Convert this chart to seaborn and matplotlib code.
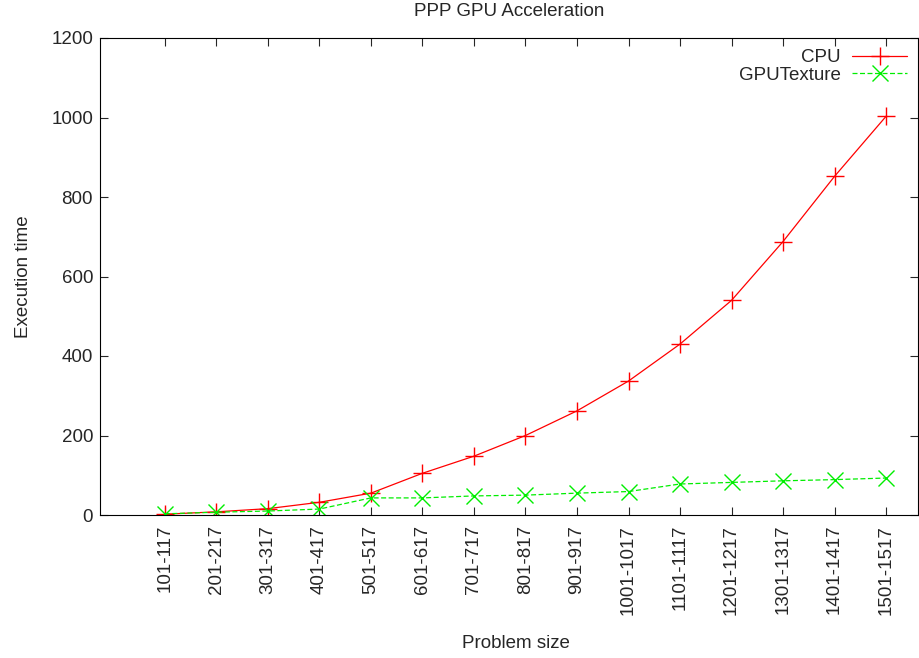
import pandas as pd
import matplotlib
matplotlib.use("Agg")
import matplotlib.pyplot as plt
import seaborn as sns

# Data
sizes = ["101-117", "201-217", "301-317", "401-417", "501-517", "601-617",
         "701-717", "801-817", "901-917", "1001-1017", "1101-1117",
         "1201-1217", "1301-1317", "1401-1417", "1501-1517"]
cpu = [2, 8, 16, 32, 55, 105, 148, 200, 262, 337, 430, 540, 688, 852, 1003]
gpu_texture = [3, 7, 10, 15, 43, 43, 48, 50, 55, 59, 78, 82, 86, 89, 93]

df = pd.DataFrame({"pos": range(len(sizes)), "size": sizes,
                   "CPU": cpu, "GPUTexture": gpu_texture})

sns.set_style("ticks")
plt.rcParams['font.family'] = ['Liberation Sans', 'DejaVu Sans']
fs = 13.5

fig = plt.figure(figsize=(9.2, 6.58), dpi=100)
ax = fig.add_axes([100 / 920, 1 - 515 / 658, 818 / 920, 477 / 658])

sns.lineplot(data=df, x="pos", y="CPU", ax=ax, color="#ff0000", lw=0.9,
             marker="+", markersize=13, markeredgewidth=1.0,
             markeredgecolor="#ff0000", label="CPU")
sns.lineplot(data=df, x="pos", y="GPUTexture", ax=ax, color="#00ee00", lw=0.9,
             linestyle=(0, (4, 2)), marker="x", markersize=12,
             markeredgewidth=1.0, markeredgecolor="#00ee00",
             label="GPUTexture")

ax.set_xlim(-1.26, 14.62)
ax.set_ylim(0, 1200)
ax.set_yticks(range(0, 1201, 200))
ax.set_xticks(df["pos"])
ax.set_xticklabels(sizes, rotation=90)

ax.tick_params(direction="in", length=6, width=0.8, top=True, right=True,
               labelsize=fs)
ax.tick_params(axis="x", pad=7)
ax.tick_params(axis="y", pad=5)
for s in ax.spines.values():
    s.set_linewidth(0.8)
    s.set_color("black")

ax.set_title("PPP GPU Acceleration", fontsize=fs, pad=16)
ax.set_xlabel("Problem size", fontsize=fs)
ax.xaxis.set_label_coords(0.509, -0.252)
ax.set_ylabel("Execution time", fontsize=fs, labelpad=14)

ax.legend(loc="upper right", frameon=False, markerfirst=False,
          handlelength=2.9, handletextpad=0.6, fontsize=fs,
          borderaxespad=0.4, borderpad=0.2, labelspacing=0.0,
          bbox_to_anchor=(1.0, 1.0))

fig.savefig("out.png", dpi=100)
